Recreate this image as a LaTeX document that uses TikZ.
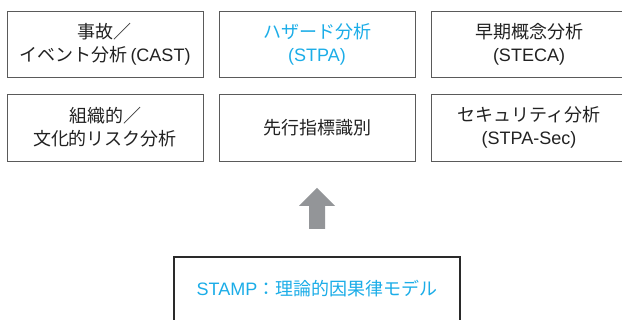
\documentclass[tikz,border=0pt]{standalone}
\usepackage{fontspec}
\setmainfont{Liberation Sans}
\newfontfamily\jp{Noto Sans CJK JP}
\newcommand\J[1]{{\jp #1}}
\definecolor{txtblue}{HTML}{1BADE8}
\definecolor{txtblack}{HTML}{222222}
\definecolor{boxgray}{HTML}{5A5A5A}
\definecolor{boxdark}{HTML}{2A2A2A}
\definecolor{arrowgray}{HTML}{939598}
\begin{document}
\begin{tikzpicture}[x=1pt,y=-1pt,
  cbox/.style={draw=boxgray, line width=0.9pt, minimum width=196pt, minimum height=66pt,
    inner sep=0pt, align=center, font=\fontsize{18}{23}\selectfont, text=txtblack},
  bluetext/.style={text=txtblue}]
\useasboundingbox (0,0) rectangle (622,320);
\clip (0,0) rectangle (622,320);
\fill[white] (0,0) rectangle (622,320);
% row 1
\node[cbox] (cast) at (105,44) {\J{事故／}\\\J{イベント分析}\kern3pt(CAST)};
\node[cbox, bluetext] (stpa) at (317,44) {\J{ハザード分析}\\(STPA)};
\node[cbox] (steca) at (529,44) {\J{早期概念分析}\\(STECA)};
% row 2
\node[cbox, minimum height=67pt] (org) at (105,127.5) {\J{組織的／}\\\J{文化的リスク分析}};
\node[cbox, minimum height=67pt] (lead) at (317,127.5) {\J{先行指標識別}};
\node[cbox, minimum height=67pt] (sec) at (529,127.5) {\J{セキュリティ分析}\\(STPA-Sec)};
% bottom
\node[draw=boxdark, line width=1.3pt, minimum width=286pt, minimum height=64pt, inner sep=0pt,
  font=\fontsize{18}{23}\selectfont, text=txtblue] (stamp) at (317,289)
  {STAMP\J{：理論的因果律モデル}};
% arrow
\fill[arrowgray] (317,188) -- (335,206) -- (325,206) -- (325,229) -- (309,229) -- (309,206) -- (299,206) -- cycle;
\end{tikzpicture}
\end{document}
